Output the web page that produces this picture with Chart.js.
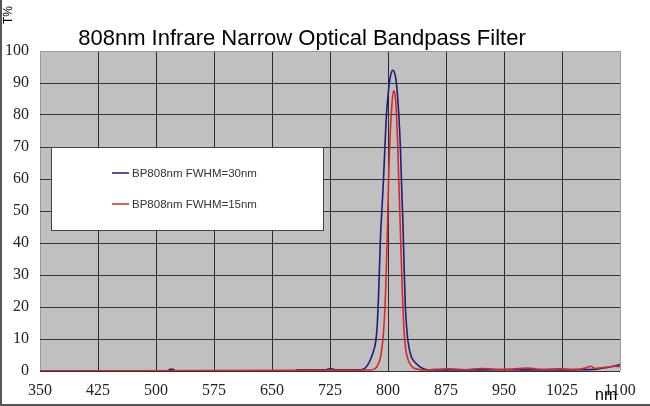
<!DOCTYPE html>
<html>
<head>
<meta charset="utf-8">
<title>808nm Infrare Narrow Optical Bandpass Filter</title>
<script src="https://cdn.jsdelivr.net/npm/chart.js@4.4.1/dist/chart.umd.min.js"></script>
<style>
    html, body { margin: 0; padding: 0; background: #ffffff; }
    #wrap { width: 650px; height: 406px; }
</style>
</head>
<body>
<div id="wrap"><canvas id="myChart" width="650" height="406"></canvas></div>
<script>
// Values (wavelength in nm, transmittance in %)
const titleText = '808nm Infrare Narrow Optical Bandpass Filter';
const seriesNames = ['BP808nm FWHM=30nm', 'BP808nm FWHM=15nm'];
const seriesColors = ['#1c1c7c', '#e02424'];

const wide_nm = [350, 515, 518, 522, 525, 680, 683, 720, 724, 728, 732, 765, 770, 774, 778, 781, 784, 786, 788, 790,
    792, 794, 796, 798, 800, 802, 804, 806, 808, 810, 812, 814, 816, 818, 819.5, 821, 822.5, 824, 826, 830,
    834, 838, 842, 846, 852, 900, 950, 1000, 1050, 1070, 1080, 1090, 1100];
const wide_T = [0, 0, 0.5, 0.5, 0, 0, 0.4, 0.4, 0.7, 0.6, 0.4, 0.4, 0.8, 2, 4, 6, 9, 14, 25, 40,
    50, 59, 70, 80, 86, 90.5, 93, 94, 93.5, 91.5, 87, 80, 70, 55, 45, 31, 20, 14, 9, 4.5,
    3, 2, 1.2, 0.7, 0.4, 0.3, 0.4, 0.3, 0.4, 0.6, 1, 1.4, 2];

const narrow_nm = [350, 778, 782, 785, 788, 790, 792, 793.5, 795, 796.5, 798, 799.5, 801, 803, 805, 807, 809, 811, 812.5, 814,
    815.5, 817, 818.5, 820, 821.5, 823, 826, 829, 833, 838, 845, 860, 880, 900, 920, 940, 960, 980, 1000, 1020,
    1040, 1055, 1062, 1068, 1075, 1085, 1092, 1100];
const narrow_T = [0, 0.3, 0.6, 1.2, 2.5, 4, 7, 10, 15, 22, 33, 47, 62, 75, 83, 87.5, 86.5, 80, 71, 59,
    48, 36, 25, 16, 10, 6.5, 3.5, 2, 1, 0.6, 0.3, 0.5, 0.7, 0.4, 0.8, 0.5, 0.6, 0.9, 0.5, 0.7,
    0.5, 0.9, 1.5, 0.8, 1.0, 1.2, 1.5, 1.4];

const xMin = 350, xMax = 1100, xStep = 75;
const yMin = 0, yMax = 100, yStep = 10;

function toPoints(xs, ys) {
    return xs.map((x, i) => ({ x: x, y: ys[i] }));
}

// Grey plot area, title, axis captions, frame and the boxed legend
const decorations = {
    id: 'decorations',
    beforeDraw(chart) {
        const { ctx, chartArea: a } = chart;
        ctx.save();
        ctx.fillStyle = '#c0c0c0';
        ctx.fillRect(a.left, a.top, a.right - a.left, a.bottom - a.top);
        ctx.restore();
    },
    afterDraw(chart) {
        const { ctx } = chart;
        ctx.save();

        // outer frame (left and bottom)
        ctx.strokeStyle = '#555';
        ctx.lineWidth = 2;
        ctx.beginPath();
        ctx.moveTo(1, 0);
        ctx.lineTo(1, 405);
        ctx.lineTo(650, 405);
        ctx.stroke();

        // title
        ctx.fillStyle = '#000';
        ctx.font = '22px "Liberation Sans", Arial, sans-serif';
        ctx.textAlign = 'center';
        ctx.textBaseline = 'alphabetic';
        ctx.fillText(titleText, 302, 45);

        // T% (rotated)
        ctx.save();
        ctx.translate(9, 15);
        ctx.rotate(-Math.PI / 2);
        ctx.font = '12px "Liberation Sans", Arial, sans-serif';
        ctx.textAlign = 'center';
        ctx.textBaseline = 'middle';
        ctx.fillText('T%', 0, 0);
        ctx.restore();

        // nm
        ctx.font = '16px "Liberation Sans", Arial, sans-serif';
        ctx.textAlign = 'left';
        ctx.textBaseline = 'alphabetic';
        ctx.fillText('nm', 595, 400);

        // legend box
        const bx = 51.5, by = 147.5, bw = 272, bh = 83;
        ctx.fillStyle = '#ffffff';
        ctx.fillRect(bx, by, bw, bh);
        ctx.strokeStyle = '#444';
        ctx.lineWidth = 1;
        ctx.strokeRect(bx, by, bw, bh);
        ctx.font = '11.5px "Liberation Sans", Arial, sans-serif';
        ctx.textBaseline = 'middle';
        const rows = [173, 204];
        seriesNames.forEach((name, i) => {
            ctx.strokeStyle = seriesColors[i];
            ctx.lineWidth = 1.5;
            ctx.beginPath();
            ctx.moveTo(112, rows[i]);
            ctx.lineTo(129, rows[i]);
            ctx.stroke();
            ctx.fillStyle = '#333';
            ctx.fillText(name, 132, rows[i] + 0.5);
        });
        ctx.restore();
    }
};

const chart = new Chart(document.getElementById('myChart').getContext('2d'), {
    type: 'scatter',
    data: {
        datasets: [{
            label: seriesNames[0],
            data: toPoints(wide_nm, wide_T),
            borderColor: seriesColors[0],
            order: 1
        }, {
            label: seriesNames[1],
            data: toPoints(narrow_nm, narrow_T),
            borderColor: seriesColors[1],
            order: 0
        }]
    },
    options: {
        responsive: false,
        animation: false,
        devicePixelRatio: 1,
        showLine: true,
        elements: {
            point: { radius: 0, hoverRadius: 0 },
            line: { borderWidth: 1.6, cubicInterpolationMode: 'monotone', fill: false }
        },
        layout: {
            padding: { top: 51, right: 30, left: 0, bottom: 0 }
        },
        scales: {
            x: {
                type: 'linear',
                min: xMin,
                max: xMax,
                afterFit: (scale) => { scale.height = 35; },
                ticks: {
                    stepSize: xStep,
                    padding: 10,
                    color: '#222',
                    font: { family: '"Liberation Serif", "Times New Roman", serif', size: 16 },
                    callback: (v) => String(v)
                },
                grid: {
                    drawTicks: false,
                    // edges of the plot are lighter than the inner lines
                    color: (c) => (c.index === 0 || c.index === 10) ? '#9a9a9a' : '#2a2a2a'
                },
                border: { display: false }
            },
            y: {
                min: yMin,
                max: yMax,
                afterFit: (scale) => { scale.width = 40; },
                ticks: {
                    stepSize: yStep,
                    padding: 11,
                    color: '#222',
                    font: { family: '"Liberation Serif", "Times New Roman", serif', size: 16 },
                    callback: (v) => String(v)
                },
                grid: {
                    drawTicks: false,
                    color: (c) => c.index === 10 ? '#9a9a9a' : '#333333'
                },
                border: { display: false }
            }
        },
        plugins: {
            legend: { display: false },
            title: { display: false },
            tooltip: { enabled: false }
        },
        events: []
    },
    plugins: [decorations]
});
</script>
</body>
</html>
